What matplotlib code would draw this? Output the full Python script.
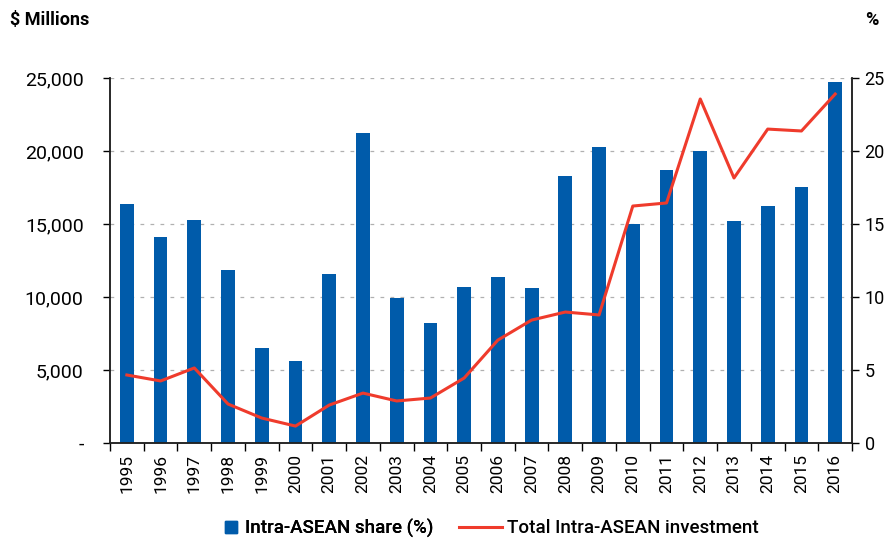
import matplotlib
matplotlib.use("Agg")
import matplotlib.pyplot as plt
import numpy as np
from matplotlib.ticker import FuncFormatter, FixedLocator
from matplotlib.lines import Line2D

plt.rcParams['font.family'] = ['Roboto', 'Liberation Sans', 'DejaVu Sans']

years = [str(y) for y in range(1995, 2017)]
share_pct = [16.4, 14.1, 15.3, 11.85, 6.5, 5.6, 11.6, 21.2, 9.9, 8.2, 10.7,
             11.4, 10.6, 18.3, 20.3, 15.0, 18.7, 20.0, 15.2, 16.2, 17.5, 24.7]
total_inv = [4660, 4250, 5140, 2670, 1710, 1160, 2600, 3420, 2880, 3080, 4450,
             7050, 8420, 8970, 8770, 16230, 16440, 23560, 18150, 21500, 21370, 23900]

bar_color = '#005BAA'
line_color = '#EF3B2C'

fig = plt.figure(figsize=(8.87, 5.40), dpi=100)
ax = fig.add_axes([0.124, 0.1796, 0.8366, 0.676])
ax2 = ax.twinx()

x = np.arange(len(years))

# bars on right (%) axis, line on left ($ millions) axis
ax2.bar(x, share_pct, width=0.41, color=bar_color, zorder=2, label='Intra-ASEAN share (%)')
ax.plot(x, total_inv, color=line_color, lw=2.2, zorder=3, label='Total Intra-ASEAN investment')

ax.set_zorder(ax2.get_zorder() + 1)
ax.patch.set_visible(False)

ax.set_xlim(-0.5, len(years) - 0.5)
ax.set_ylim(0, 25000)
ax2.set_ylim(0, 25)

ax.set_yticks([0, 5000, 10000, 15000, 20000, 25000])
ax.yaxis.set_major_formatter(FuncFormatter(lambda v, p: '-' if v == 0 else f'{int(v):,}'))
ax2.set_yticks([0, 5, 10, 15, 20, 25])
ax2.set_yticklabels(['0', '5', '10', '15', '20', '25'])

for v in [5, 10, 15, 20, 25]:
    ax2.axhline(v, color='#b0b0b0', lw=0.9, ls=(0, (3, 5)), zorder=1)

ax.set_xticks(x)
ax.set_xticklabels(years, rotation=90, fontsize=12.5)
ax.tick_params(axis='x', which='major', length=0, pad=8)
ax.xaxis.set_minor_locator(FixedLocator(np.arange(-0.5, len(years), 1.0)))
ax.tick_params(axis='x', which='minor', length=6, width=1, direction='out')

ax.tick_params(axis='y', labelsize=14, length=5, width=1, direction='out', pad=14)
ax2.tick_params(axis='y', labelsize=13, length=5, width=1, direction='out', pad=4)
ax2.tick_params(axis='x', length=0)

for a in (ax, ax2):
    a.spines['top'].set_visible(False)
    for s in ('left', 'right', 'bottom'):
        a.spines[s].set_linewidth(1.1)
        a.spines[s].set_color('#222222')

fig.text(0.011, 0.963, '$ Millions', fontsize=13, fontweight='bold', ha='left', va='center')
fig.text(0.975, 0.963, '%', fontsize=13, fontweight='bold', ha='left', va='center')

h2, l2 = ax.get_legend_handles_labels()
bar_handle = Line2D([], [], marker='s', color=bar_color, ls='none', markersize=9)
leg1 = fig.legend([bar_handle], ['Intra-ASEAN share (%)'], loc='center left',
                  bbox_to_anchor=(0.233, 0.022), frameon=False,
                  handlelength=0.8, handletextpad=0.35,
                  prop={'weight': 'medium', 'size': 13.5})
fig.add_artist(leg1)
fig.legend([h2[0]], [l2[0]], loc='center left',
           bbox_to_anchor=(0.498, 0.022), frameon=False,
           handlelength=2.3, handletextpad=0.3,
           prop={'weight': 'medium', 'size': 13.5})

fig.savefig('out.png', dpi=100)
